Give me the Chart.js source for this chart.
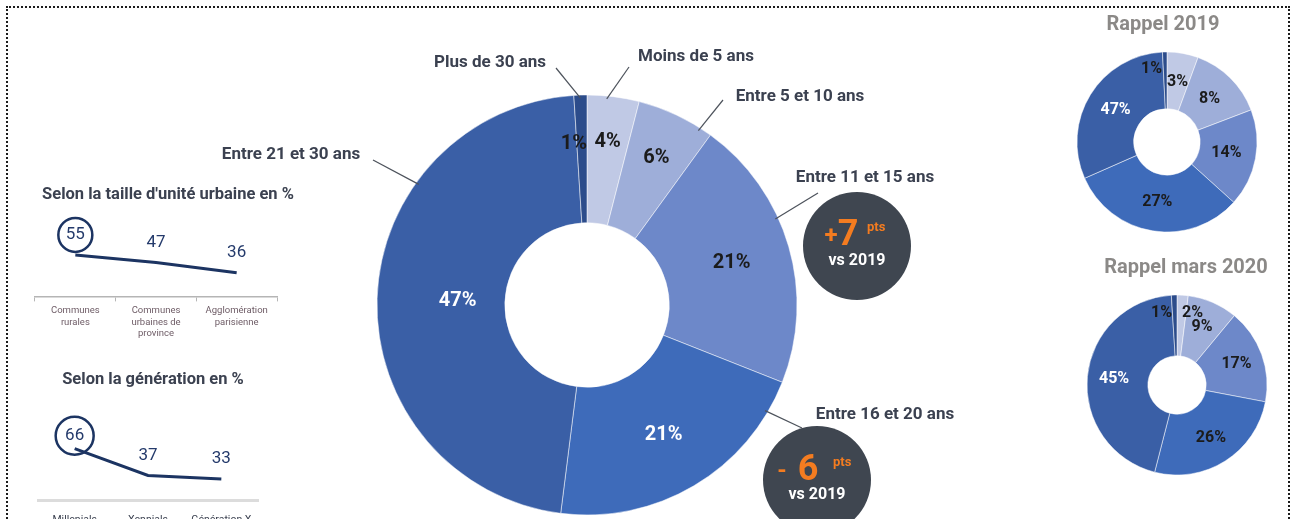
<!DOCTYPE html>
<html lang="fr">
<head>
<meta charset="UTF-8">
<title>Ancienneté du véhicule</title>
<script src="https://cdn.jsdelivr.net/npm/chart.js"></script>
<style>
  html, body { margin: 0; padding: 0; background: #fff; }
  body { width: 1294px; height: 519px; overflow: hidden; position: relative; font-family: Roboto, sans-serif; }
  .cadre { position: absolute; left: 6px; top: 6px; width: 1280px; height: 600px; border: 2px dotted #1c1c1c; }
  canvas { position: absolute; }
  #mainChart { left: 0; top: 0; }
  #rappel2019 { left: 1060px; top: 0; }
  #rappelMars { left: 1070px; top: 245px; }
  #uniteChart { left: 20px; top: 182px; }
  #generationChart { left: 20px; top: 367px; }
</style>
</head>
<body>
<div class="cadre"></div>
<canvas id="mainChart" width="1060" height="519"></canvas>
<canvas id="rappel2019" width="214" height="232"></canvas>
<canvas id="rappelMars" width="214" height="230"></canvas>
<canvas id="uniteChart" width="296" height="165"></canvas>
<canvas id="generationChart" width="266" height="172"></canvas>

<script>
// --- données ---
const ageLabels = ['Moins de 5 ans', 'Entre 5 et 10 ans', 'Entre 11 et 15 ans', 'Entre 16 et 20 ans', 'Entre 21 et 30 ans', 'Plus de 30 ans'];
const shares2021 = [4, 6, 21, 21, 47, 1];
// rappel 2019 : valeurs affichées, et parts des arcs telles que dessinées
const values2019 = [3, 8, 14, 27, 47, 1];
const arcs2019 = [5.6, 13.6, 17.5, 31.7, 30.8, 0.8];
const valuesMars2020 = [2, 9, 17, 26, 45, 1];

const uniteCats = [['Communes', 'rurales'], ['Communes', 'urbaines de', 'province'], ['Agglomération', 'parisienne']];
const uniteValues = [55, 47, 36];
const generationCats = ['Millenials', 'Xennials', 'Génération X'];
const generationValues = [66, 37, 33];

// --- styles ---
const sliceColors = ['#c0c9e5', '#9eaed9', '#6d88c9', '#3e6bba', '#3a5fa6', '#2c4c8b'];
const dark = '#1b1b1b';
const labelColors = [dark, dark, dark, '#fff', '#fff', dark];
const labelColorsSmall = [dark, dark, dark, dark, '#fff', dark];
const navy = '#1c3462';
const textDark = '#3b4150';

Chart.defaults.font.family = 'Roboto, sans-serif';
Chart.defaults.animation = false;
Chart.defaults.plugins.legend.display = false;
Chart.defaults.plugins.tooltip.enabled = false;

// titre posé librement (pas forcément centré sur la zone du graphique)
const headline = {
    id: 'headline',
    afterDraw(chart, args, opts) {
        if (!opts.text) return;
        const ctx = chart.ctx;
        ctx.save();
        ctx.font = opts.font;
        ctx.fillStyle = opts.color;
        ctx.textAlign = 'center';
        ctx.textBaseline = 'middle';
        ctx.fillText(opts.text, opts.x, opts.y);
        ctx.restore();
    }
};

// étiquettes des parts (les grosses parts ont leur étiquette plus près du trou)
const sliceLabels = {
    id: 'sliceLabels',
    afterDatasetsDraw(chart, args, opts) {
        if (!opts.texts) return;
        const ctx = chart.ctx;
        const arcs = chart.getDatasetMeta(0).data;
        ctx.save();
        ctx.font = opts.font;
        ctx.textBaseline = 'middle';
        arcs.forEach((a, i) => {
            const span = a.endAngle - a.startAngle;
            const mid = (a.startAngle + a.endAngle) / 2;
            const tiny = span < 0.13;
            const frac = tiny ? opts.tinyFrac : opts.frac - opts.shrink * span / (Math.PI * 2);
            const r = a.innerRadius + (a.outerRadius - a.innerRadius) * frac;
            let x = a.x + Math.cos(mid) * r;
            const y = a.y + Math.sin(mid) * r;
            ctx.textAlign = 'center';
            if (tiny) {
                if (x < a.x) { ctx.textAlign = 'right'; x = a.x - opts.gap; }
                else { ctx.textAlign = 'left'; x = a.x + opts.gap; }
            }
            ctx.fillStyle = opts.colors[i];
            ctx.fillText(opts.texts[i], x, y);
        });
        ctx.restore();
    }
};

// légendes fléchées + bulles d'évolution
const callouts = {
    id: 'callouts',
    afterDatasetsDraw(chart, args, opts) {
        if (!opts.items) return;
        const ctx = chart.ctx;
        const arcs = chart.getDatasetMeta(0).data;
        ctx.save();
        opts.items.forEach(c => {
            const a = arcs[c.slice];
            const ang = a.startAngle + (a.endAngle - a.startAngle) * c.at;
            ctx.strokeStyle = '#4d535c';
            ctx.lineWidth = 1.2;
            ctx.beginPath();
            ctx.moveTo(a.x + Math.cos(ang) * (a.outerRadius - 3), a.y + Math.sin(ang) * (a.outerRadius - 3));
            ctx.lineTo(c.end[0], c.end[1]);
            ctx.stroke();
            ctx.font = 'bold 17px Roboto';
            ctx.fillStyle = textDark;
            ctx.textAlign = 'center';
            ctx.textBaseline = 'middle';
            ctx.fillText(chart.data.labels[c.slice], c.tx, c.ty);
        });
        (opts.bubbles || []).forEach(b => {
            const delta = shares2021[b.slice] - values2019[b.slice];
            ctx.fillStyle = '#3f4650';
            ctx.beginPath();
            ctx.arc(b.x, b.y, 54, 0, Math.PI * 2);
            ctx.fill();
            ctx.fillStyle = '#f47c20';
            ctx.textAlign = 'center';
            ctx.textBaseline = 'alphabetic';
            ctx.font = 'bold 36px Roboto';
            ctx.fillText(String(Math.abs(delta)), b.x - 9, b.y + b.base);
            ctx.font = 'bold 24px Roboto';
            ctx.fillText(delta > 0 ? '+' : '-', b.x + b.signDx, b.y + b.base - 2);
            ctx.font = 'bold 13px Roboto';
            ctx.textAlign = 'left';
            ctx.fillText('pts', b.x + b.ptsDx, b.y + b.base - 14);
            ctx.fillStyle = '#fff';
            ctx.textAlign = 'center';
            ctx.textBaseline = 'middle';
            ctx.font = 'bold 16px Roboto';
            ctx.fillText('vs 2019', b.x, b.y + b.vsDy);
        });
        ctx.restore();
    }
};

// valeurs au-dessus des points + cercle
const pointLabels = {
    id: 'pointLabels',
    afterDatasetsDraw(chart, args, opts) {
        if (!opts.dy) return;
        const ctx = chart.ctx;
        const pts = chart.getDatasetMeta(0).data;
        const data = chart.data.datasets[0].data;
        ctx.save();
        ctx.font = '17px Roboto';
        ctx.fillStyle = '#243a6b';
        ctx.strokeStyle = navy;
        ctx.lineWidth = 2.5;
        ctx.textAlign = 'center';
        ctx.textBaseline = 'middle';
        pts.forEach((p, i) => {
            const y = p.y - (i === 0 ? opts.ringDy : opts.dy);
            ctx.fillText(String(data[i]), p.x, y);
            if (i === 0) {
                ctx.beginPath();
                ctx.arc(p.x, y, opts.ringR, 0, Math.PI * 2);
                ctx.stroke();
            }
        });
        ctx.restore();
    }
};

Chart.register(headline, sliceLabels, callouts, pointLabels);

// anneau principal
new Chart(document.getElementById('mainChart'), {
    type: 'doughnut',
    data: {
        labels: ageLabels,
        datasets: [{
            data: shares2021,
            backgroundColor: sliceColors,
            borderColor: 'rgba(255,255,255,0.5)',
            borderWidth: 1,
            hoverOffset: 0
        }]
    },
    options: {
        responsive: false,
        radius: 210,
        cutout: 82,
        layout: { padding: { left: 377, right: 263, top: 95, bottom: 4 } },
        plugins: {
            sliceLabels: {
                texts: shares2021.map(v => v + '%'),
                colors: labelColors,
                font: 'bold 20px Roboto',
                frac: 0.67, shrink: 0.64, tinyFrac: 0.62, gap: 0
            },
            callouts: {
                items: [
                    { slice: 5, at: 0.5, end: [556, 68], tx: 490, ty: 63 },
                    { slice: 0, at: 0.38, end: [629, 67], tx: 696, ty: 57 },
                    { slice: 1, at: 0.84, end: [723, 100], tx: 800, ty: 97 },
                    { slice: 2, at: 0.39, end: [818, 193], tx: 865, ty: 178 },
                    { slice: 3, at: 0.12, end: [802, 428], tx: 885, ty: 415 },
                    { slice: 4, at: 0.7, end: [373, 160], tx: 291, ty: 155 }
                ],
                bubbles: [
                    { slice: 2, x: 857, y: 246, base: -1, signDx: -26, ptsDx: 10, vsDy: 15 },
                    { slice: 3, x: 817, y: 480, base: 0, signDx: -35, ptsDx: 16, vsDy: 15 }
                ]
            }
        }
    }
});

function smallDonut(id, title, arcs, texts, cutout, pos, frac) {
    return new Chart(document.getElementById(id), {
        type: 'doughnut',
        data: {
            labels: ageLabels,
            datasets: [{
                data: arcs,
                backgroundColor: sliceColors,
                borderColor: 'rgba(255,255,255,0.5)',
                borderWidth: 1,
                hoverOffset: 0
            }]
        },
        options: {
            responsive: false,
            radius: 90,
            cutout: cutout,
            layout: { padding: { top: pos.top } },
            plugins: {
                headline: { text: title, x: pos.tx, y: pos.ty, font: 'bold 20px Roboto', color: '#8b8987' },
                sliceLabels: {
                    texts: texts,
                    colors: labelColorsSmall,
                    font: 'bold 16px Roboto',
                    frac: frac, shrink: 0, tinyFrac: 0.7, gap: 5
                }
            }
        }
    });
}

smallDonut('rappel2019', 'Rappel 2019', arcs2019, values2019.map(v => v + '%'), 33, { top: 52, tx: 103, ty: 25 }, 0.48);
smallDonut('rappelMars', 'Rappel mars 2020', valuesMars2020, valuesMars2020.map(v => v + '%'), 29, { top: 50, tx: 116, ty: 23 }, 0.56);

function lineChart(id, title, cats, values, opts) {
    return new Chart(document.getElementById(id), {
        type: 'line',
        data: {
            labels: cats,
            datasets: [{
                data: values,
                borderColor: navy,
                borderWidth: 3,
                pointRadius: 0,
                tension: 0
            }]
        },
        options: {
            responsive: false,
            layout: { padding: opts.padding },
            plugins: {
                headline: { text: title, x: opts.tx, y: opts.ty, font: 'bold 16.5px Roboto', color: textDark },
                pointLabels: opts.labels
            },
            scales: {
                y: { display: false, min: opts.yMin, max: opts.yMax },
                x: opts.x
            }
        }
    });
}

lineChart('uniteChart', "Selon la taille d'unité urbaine en %", uniteCats, uniteValues, {
    padding: { left: 15, right: 39, top: 39.2, bottom: 4 },
    tx: 148, ty: 13,
    yMin: 10.7, yMax: 91,
    labels: { dy: 20, ringDy: 20, ringR: 17 },
    x: {
        offset: true,
        grid: { display: true, offset: true, drawOnChartArea: false, drawTicks: true, tickLength: 5, color: '#b5b5b5' },
        border: { display: true, color: '#b5b5b5', width: 1.5 },
        ticks: { color: '#6e5c66', font: { size: 9.5, lineHeight: 1.25 }, padding: 3, maxRotation: 0 }
    }
});

lineChart('generationChart', 'Selon la génération en %', generationCats, generationValues, {
    padding: { left: 18, right: 28, top: 43.2, bottom: 6 },
    tx: 133, ty: 13,
    yMin: 9.9, yMax: 107.8,
    labels: { dy: 20, ringDy: 13, ringR: 19 },
    x: {
        offset: true,
        grid: { display: false },
        border: { display: true, color: '#dcdcdc', width: 3 },
        ticks: { color: textDark, font: { size: 10.5 }, padding: 6, maxRotation: 0 }
    }
});
</script>
</body>
</html>
